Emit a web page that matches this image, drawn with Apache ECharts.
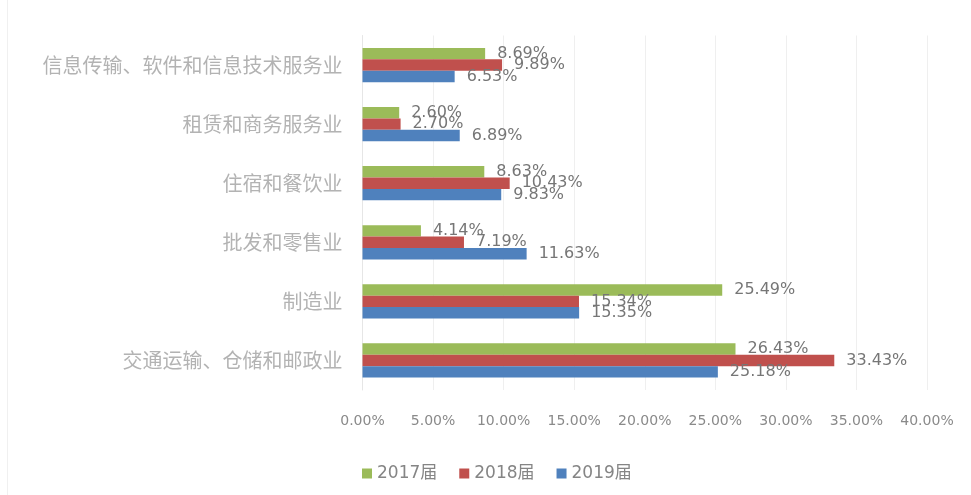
<!DOCTYPE html>
<html>
<head>
<meta charset="utf-8">
<script src="https://cdn.jsdelivr.net/npm/echarts@6/dist/echarts.min.js"></script>
<style>html,body{margin:0;padding:0;background:#fff;}#c{width:971px;height:495px;}</style>
</head>
<body>
<div id="c"></div>
<script>
var categories = ['交通运输、仓储和邮政业', '制造业', '批发和零售业', '住宿和餐饮业', '租赁和商务服务业', '信息传输、软件和信息技术服务业'];
var seriesNames = ['2017届', '2018届', '2019届'];
var values2017 = [26.43, 25.49, 4.14, 8.63, 2.60, 8.69];
var values2018 = [33.43, 15.34, 7.19, 10.43, 2.70, 9.89];
var values2019 = [25.18, 15.35, 11.63, 9.83, 6.89, 6.53];
var colors = ['#9BBB59', '#C0504D', '#4F81BD'];
var xTicks = { min: 0, max: 40, interval: 5 };

var allValues = [values2017, values2018, values2019];
var chart = echarts.init(document.getElementById('c'));
var series = seriesNames.map(function (name, i) {
  return {
    name: name,
    type: 'bar',
    data: allValues[i],
    barGap: '0%',
    barCategoryGap: '42%',
    itemStyle: { color: colors[i] },
    label: {
      show: true,
      position: 'right',
      distance: 12,
      color: '#767676',
      fontFamily: 'DejaVu Sans',
      fontSize: 16,
      formatter: function (p) { return p.value.toFixed(2) + '%'; }
    }
  };
});
chart.setOption({
  animation: false,
  backgroundColor: '#fff',
  graphic: [{
    type: 'rect', silent: true,
    shape: { x: 7.5, y: -2, width: 1000, height: 500 },
    style: { fill: 'none', stroke: '#f0f0f0', lineWidth: 1 }
  }],
  legend: {
    data: seriesNames,
    left: 357,
    top: 460,
    itemWidth: 10,
    itemHeight: 10,
    itemGap: 22,
    icon: 'rect',
    textStyle: { color: '#858585', fontSize: 17, fontFamily: 'DejaVu Sans, Noto Sans CJK SC' }
  },
  grid: { left: 362.5, right: 44, top: 35.5, bottom: 105, containLabel: false },
  xAxis: {
    type: 'value',
    min: xTicks.min, max: xTicks.max, interval: xTicks.interval,
    axisLine: { show: false },
    axisTick: { show: false },
    splitLine: { show: true, lineStyle: { color: '#efefef', width: 1 } },
    axisLabel: {
      color: '#8a8a8a', fontSize: 14, fontFamily: 'DejaVu Sans', margin: 24,
      formatter: function (v) { return v.toFixed(2) + '%'; }
    }
  },
  yAxis: {
    type: 'category',
    data: categories,
    axisLine: { show: true, lineStyle: { color: '#e6e6e6' } },
    axisTick: { show: false },
    axisLabel: { color: '#b3b3b3', fontSize: 20, fontFamily: 'Noto Sans CJK SC', margin: 20 }
  },
  series: series
});
</script>
</body>
</html>
